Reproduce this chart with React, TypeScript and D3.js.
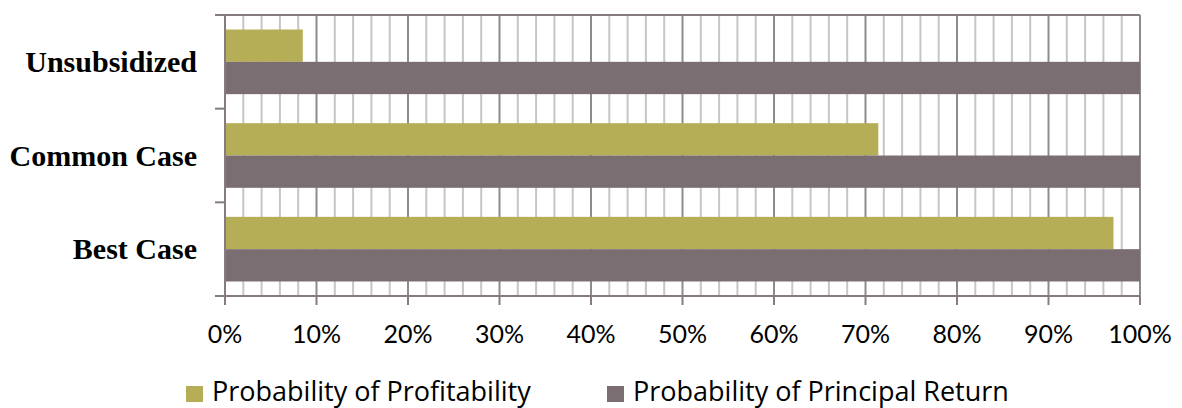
import React from "react";
import * as d3 from "d3";

// Scenario categories (top to bottom) and the two probability series, in percent
const categories = ["Unsubsidized", "Common Case", "Best Case"];
const seriesNames = ["Probability of Profitability", "Probability of Principal Return"];
const profitability = [8.5, 71.4, 97.1];
const principalReturn = [100, 100, 100];
const majorTicks = [0, 10, 20, 30, 40, 50, 60, 70, 80, 90, 100];
const minorTicks = d3.range(0, 101, 2);

const W = 1182;
const H = 408;
const plot = { left: 225, right: 1140, top: 15, bottom: 296 };
const colors = ["#b5ae56", "#7b6e73"];
const axisColor = "#857b80";

export default function App() {
  const x = d3.scaleLinear().domain([0, 100]).range([plot.left, plot.right]);
  const y = d3.scaleBand<string>().domain(categories).range([plot.top, plot.bottom]).padding(0);
  const step = y.bandwidth();
  const pad = step * 0.155;
  const inner = d3.scaleBand<string>().domain(seriesNames).range([pad, step - pad]).padding(0);
  const values = [profitability, principalReturn];
  const bandEdges = [...categories.map((c) => y(c) as number), plot.bottom];

  const tickFont = "Lato, 'Open Sans', sans-serif";
  const legendFont = "'Open Sans', Lato, sans-serif";
  const serif = "'Liberation Serif', 'Times New Roman', serif";

  return (
    <svg width={W} height={H} style={{ position: "absolute", left: 0, top: 0, background: "#fff" }}>
      {/* minor gridlines every 2% */}
      {minorTicks.filter((t) => t % 10 !== 0).map((t) => (
        <line key={"m" + t} x1={x(t)} x2={x(t)} y1={plot.top} y2={plot.bottom} stroke="#c6c6c6" strokeWidth={2} />
      ))}
      {/* major gridlines every 10% */}
      {majorTicks.filter((t) => t > 0).map((t) => (
        <line key={"M" + t} x1={x(t)} x2={x(t)} y1={plot.top} y2={plot.bottom} stroke="#8f8b8d" strokeWidth={2} />
      ))}

      {/* bars */}
      {categories.map((c, i) =>
        seriesNames.map((s, j) => (
          <rect
            key={c + s}
            x={x(0)}
            y={(y(c) as number) + (inner(s) as number)}
            width={x(values[j][i]) - x(0)}
            height={inner.bandwidth()}
            fill={colors[j]}
          />
        ))
      )}

      {/* top border */}
      <line x1={plot.left - 10} x2={plot.right} y1={plot.top} y2={plot.top} stroke={axisColor} strokeWidth={2} />
      {/* category axis with ticks between bands */}
      <line x1={plot.left} x2={plot.left} y1={plot.top} y2={plot.bottom + 9} stroke={axisColor} strokeWidth={2} />
      {bandEdges.map((e, i) => (
        <line key={"ct" + i} x1={plot.left - 10} x2={plot.left} y1={e} y2={e} stroke={axisColor} strokeWidth={2} />
      ))}
      {/* value axis */}
      <line x1={plot.left - 10} x2={plot.right} y1={plot.bottom} y2={plot.bottom} stroke={axisColor} strokeWidth={2} />
      {majorTicks.map((t) => (
        <g key={"vt" + t}>
          <line x1={x(t)} x2={x(t)} y1={plot.bottom} y2={plot.bottom + 9} stroke={axisColor} strokeWidth={2} />
          <text x={x(t)} y={343} textAnchor="middle" fontFamily={tickFont} fontSize={25} fill="#000">
            {t}%
          </text>
        </g>
      ))}

      {/* category labels */}
      {categories.map((c) => (
        <text
          key={"cl" + c}
          x={197}
          y={(y(c) as number) + step / 2 + 10}
          textAnchor="end"
          fontFamily={serif}
          fontWeight="bold"
          fontSize={30}
          fill="#000"
        >
          {c}
        </text>
      ))}

      {/* legend */}
      {seriesNames.map((s, j) => {
        const lx = [186, 607][j];
        return (
          <g key={"lg" + s}>
            <rect x={lx} y={386} width={17} height={16} fill={colors[j]} />
            <text x={lx + 26} y={401} fontFamily={legendFont} fontSize={27} fill="#000">
              {s}
            </text>
          </g>
        );
      })}
    </svg>
  );
}
